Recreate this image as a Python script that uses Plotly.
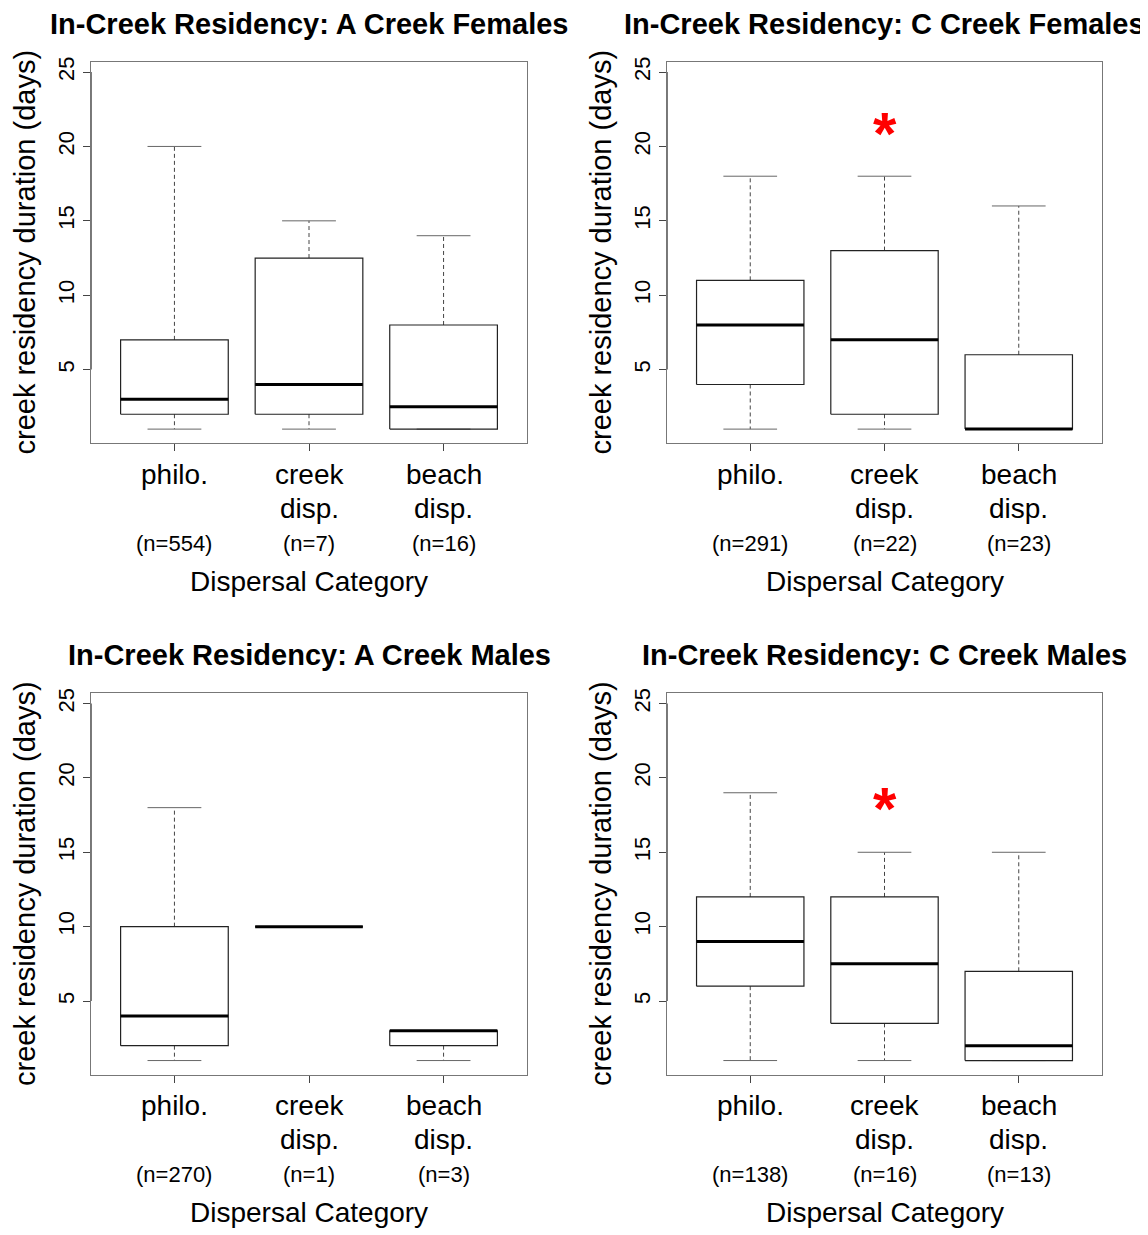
import plotly.graph_objects as go

# ---------------- data ----------------
categories = ["philo.", "creek\ndisp.", "beach\ndisp."]
cat_pos = [1, 2, 3]

titles = [
    "In-Creek Residency: A Creek Females",
    "In-Creek Residency: C Creek Females",
    "In-Creek Residency: A Creek Males",
    "In-Creek Residency: C Creek Males",
]

lower_af = [1, 1, 1]
q1_af = [2, 2, 1]
med_af = [3, 4, 2.5]
q3_af = [7, 12.5, 8]
upper_af = [20, 15, 14]
n_af = [554, 7, 16]

lower_cf = [1, 1, 1]
q1_cf = [4, 2, 1]
med_cf = [8, 7, 1]
q3_cf = [11, 13, 6]
upper_cf = [18, 18, 16]
n_cf = [291, 22, 23]

lower_am = [1, 10, 1]
q1_am = [2, 10, 2]
med_am = [4, 10, 3]
q3_am = [10, 10, 3]
upper_am = [18, 10, 3]
n_am = [270, 1, 3]

lower_cm = [1, 1, 1]
q1_cm = [6, 3.5, 1]
med_cm = [9, 7.5, 2]
q3_cm = [12, 12, 7]
upper_cm = [19, 15, 15]
n_cm = [138, 16, 13]

star_cat = [None, 2, None, 2]
star_y = [None, 21.4, None, 18.5]

y_ticks = [5, 10, 15, 20, 25]
y_range = [0.05, 25.69]
x_range = [0.38, 3.62]

panels = [
    (lower_af, q1_af, med_af, q3_af, upper_af, n_af),
    (lower_cf, q1_cf, med_cf, q3_cf, upper_cf, n_cf),
    (lower_am, q1_am, med_am, q3_am, upper_am, n_am),
    (lower_cm, q1_cm, med_cm, q3_cm, upper_cm, n_cm),
]

# ---------------- layout geometry ----------------
W, H = 1148, 1235
OX, OY = 8, 12   # page offset compensation
px_x = [(91, 527), (667, 1102), (91, 527), (667, 1102)]
px_y = [(61, 444), (61, 444), (695, 1078), (695, 1078)]

FONT = "Liberation Sans, Arial, Helvetica, sans-serif"
BOXW = 0.4      # half box width
CAPW = 0.2      # half staple width

fig = go.Figure()
layout = dict(
    width=W, height=H, margin=dict(l=0, r=0, t=0, b=0),
    paper_bgcolor="white", plot_bgcolor="white", showlegend=False,
    font=dict(family=FONT, color="black"),
)
annotations = []

for k, (lo, q1, md, q3, up, nn) in enumerate(panels):
    xa = "x" if k == 0 else f"x{k+1}"
    ya = "y" if k == 0 else f"y{k+1}"
    xkey = "xaxis" if k == 0 else f"xaxis{k+1}"
    ykey = "yaxis" if k == 0 else f"yaxis{k+1}"
    x0, x1 = px_x[k][0] - OX, px_x[k][1] - OX
    y0, y1 = px_y[k][0] - OY, px_y[k][1] - OY
    layout[xkey] = dict(
        domain=[x0 / W, x1 / W], range=x_range, anchor=ya,
        tickvals=cat_pos, ticktext=["", "", ""], ticks="outside", ticklen=7,
        tickcolor="#444", showgrid=False, zeroline=False,
        showline=True, linecolor="#777", linewidth=1, mirror=True, fixedrange=True,
    )
    layout[ykey] = dict(
        domain=[1 - y1 / H, 1 - y0 / H], range=y_range, anchor=xa,
        tickvals=y_ticks, ticktext=[str(v) for v in y_ticks], ticks="outside",
        ticklen=7, tickcolor="#444", tickangle=-90,
        tickfont=dict(size=22, family=FONT, color="black"),
        showgrid=False, zeroline=False,
        showline=True, linecolor="#777", linewidth=1, mirror=True, fixedrange=True,
    )

    bx, by, wx, wy, cx, cy, mx, my = [], [], [], [], [], [], [], []
    for i, c in enumerate(cat_pos):
        bx += [c - BOXW, c + BOXW, c + BOXW, c - BOXW, c - BOXW, None]
        by += [q1[i], q1[i], q3[i], q3[i], q1[i], None]
        wx += [c, c, None, c, c, None]
        wy += [q3[i], up[i], None, q1[i], lo[i], None]
        cx += [c - CAPW, c + CAPW, None, c - CAPW, c + CAPW, None]
        cy += [up[i], up[i], None, lo[i], lo[i], None]
        mx += [c - BOXW, c + BOXW, None]
        my += [md[i], md[i], None]

    fig.add_trace(go.Scatter(x=wx, y=wy, xaxis=xa, yaxis=ya, mode="lines",
                             line=dict(color="#444", width=1, dash="4px,3px"),
                             hoverinfo="skip"))
    fig.add_trace(go.Scatter(x=cx, y=cy, xaxis=xa, yaxis=ya, mode="lines",
                             line=dict(color="#666", width=1), hoverinfo="skip"))
    fig.add_trace(go.Scatter(x=bx, y=by, xaxis=xa, yaxis=ya, mode="lines",
                             line=dict(color="#222", width=1.2), hoverinfo="skip"))
    fig.add_trace(go.Scatter(x=mx, y=my, xaxis=xa, yaxis=ya, mode="lines",
                             line=dict(color="black", width=3), hoverinfo="skip"))
    # darker left axis line spanning the tick range (R style)
    fig.add_trace(go.Scatter(x=[x_range[0], x_range[0]], y=[y_ticks[0], y_ticks[-1]],
                             xaxis=xa, yaxis=ya, mode="lines", cliponaxis=False,
                             line=dict(color="#333", width=1.3), hoverinfo="skip"))

    if star_cat[k] is not None:
        annotations.append(dict(text="<b>*</b>", xref=xa, yref=ya, x=star_cat[k], y=star_y[k],
                                yshift=-8, showarrow=False, xanchor="center", yanchor="middle",
                                font=dict(size=60, color="red", family=FONT)))

    # title
    annotations.append(dict(text=f"<b>{titles[k]}</b>", xref=f"{xa} domain", yref=f"{ya} domain",
                            x=0.5, y=1, yshift=38, showarrow=False, xanchor="center",
                            yanchor="middle", font=dict(size=29, family=FONT)))
    # y axis title
    annotations.append(dict(text="creek residency duration (days)", xref=f"{xa} domain",
                            yref=f"{ya} domain", x=0, y=0.5, xshift=-66, textangle=-90,
                            showarrow=False, xanchor="center", yanchor="middle",
                            font=dict(size=29, family=FONT)))
    # x axis title
    annotations.append(dict(text="Dispersal Category", xref=f"{xa} domain", yref=f"{ya} domain",
                            x=0.5, y=0, yshift=-138, showarrow=False, xanchor="center",
                            yanchor="middle", font=dict(size=28, family=FONT)))
    # category labels and n labels
    for i, c in enumerate(cat_pos):
        for j, line in enumerate(categories[i].split("\n")):
            annotations.append(dict(text=line, xref=xa, yref=f"{ya} domain", x=c, y=0,
                                    yshift=-31 - 34 * j, showarrow=False, xanchor="center",
                                    yanchor="middle", font=dict(size=28, family=FONT)))
        annotations.append(dict(text=f"(n={nn[i]})", xref=xa, yref=f"{ya} domain", x=c, y=0,
                                yshift=-100, showarrow=False, xanchor="center",
                                yanchor="middle", font=dict(size=22, family=FONT)))

layout["annotations"] = annotations
fig.update_layout(**layout)
fig.write_html("out.html")
